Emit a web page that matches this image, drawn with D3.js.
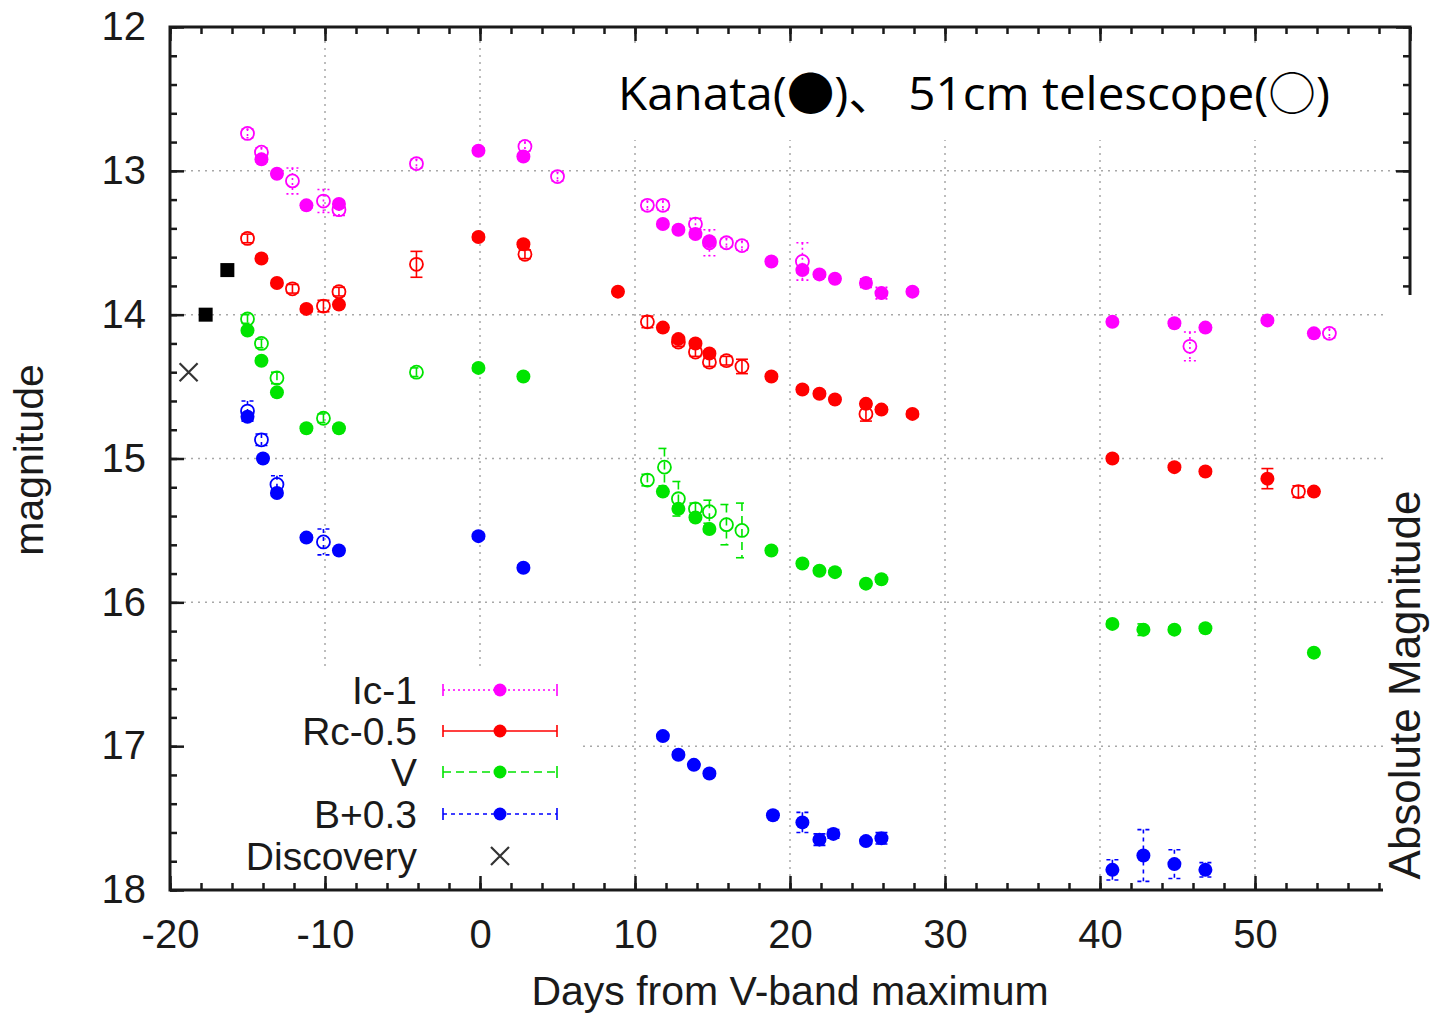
<!DOCTYPE html>
<html>
<head>
<meta charset="utf-8">
<script src="https://cdn.jsdelivr.net/npm/d3@7"></script>
<style>
  html, body { margin: 0; padding: 0; background: #fff; }
  svg { display: block; }
</style>
</head>
<body>
<svg id="chart" width="1431" height="1016"></svg>
<script>
// Light curves: [day from V max, plotted magnitude, error]
const icKanata = [[-14.1,12.92,0.02],[-13.1,13.02,0.02],[-11.2,13.24,0.02],[-9.1,13.23,0.02],[-0.1,12.86,0.02],[2.8,12.90,0.02],[11.8,13.37,0.02],[12.8,13.41,0.02],[13.9,13.44,0.02],[14.8,13.49,0.02],[18.8,13.63,0.02],[20.8,13.69,0.02],[21.9,13.72,0.02],[22.9,13.75,0.02],[24.9,13.78,0.03],[25.9,13.85,0.04],[27.9,13.84,0.02],[40.8,14.05,0.02],[44.8,14.06,0.02],[46.8,14.09,0.02],[50.8,14.04,0.02],[53.8,14.13,0.02]];
const ic51cm = [[-15.0,12.74,0.03],[-14.1,12.87,0.03],[-12.1,13.07,0.09],[-10.1,13.21,0.08],[-9.1,13.27,0.04],[-4.1,12.95,0.03],[2.9,12.83,0.03],[5.0,13.04,0.03],[10.8,13.24,0.03],[11.8,13.24,0.03],[13.9,13.37,0.04],[14.8,13.50,0.09],[15.9,13.50,0.03],[16.9,13.52,0.03],[20.8,13.63,0.13],[45.8,14.22,0.10],[54.8,14.13,0.03]];

const rcKanata = [[-14.1,13.61,0.02],[-13.1,13.78,0.02],[-11.2,13.96,0.02],[-9.1,13.93,0.02],[-0.1,13.46,0.02],[2.8,13.51,0.02],[8.9,13.84,0.02],[11.8,14.09,0.02],[12.8,14.17,0.02],[13.9,14.20,0.02],[14.8,14.27,0.02],[18.8,14.43,0.02],[20.8,14.52,0.02],[21.9,14.55,0.02],[22.9,14.59,0.02],[24.9,14.62,0.02],[25.9,14.66,0.02],[27.9,14.69,0.02],[40.8,15.00,0.02],[44.8,15.06,0.02],[46.8,15.09,0.02],[50.8,15.14,0.07],[53.8,15.23,0.02]];
const rc51cm = [[-15.0,13.47,0.03],[-12.1,13.82,0.03],[-10.1,13.94,0.04],[-9.1,13.84,0.03],[-4.1,13.65,0.09],[2.9,13.58,0.03],[10.8,14.05,0.04],[12.8,14.19,0.03],[13.9,14.26,0.03],[14.8,14.33,0.03],[15.9,14.32,0.03],[16.9,14.36,0.05],[24.9,14.69,0.05],[52.8,15.23,0.04]];

const vKanata = [[-15.0,14.11,0.02],[-14.1,14.32,0.02],[-13.1,14.54,0.02],[-11.2,14.79,0.02],[-9.1,14.79,0.02],[-0.1,14.37,0.02],[2.8,14.43,0.02],[11.8,15.23,0.02],[12.8,15.35,0.02],[13.9,15.41,0.02],[14.8,15.49,0.02],[18.8,15.64,0.02],[20.8,15.73,0.02],[21.9,15.78,0.02],[22.9,15.79,0.02],[24.9,15.87,0.02],[25.9,15.84,0.02],[40.8,16.15,0.02],[42.8,16.19,0.04],[44.8,16.19,0.02],[46.8,16.18,0.02],[53.8,16.35,0.02]];
const v51cm = [[-15.0,14.03,0.03],[-14.1,14.20,0.03],[-13.1,14.44,0.04],[-10.1,14.72,0.03],[-4.1,14.40,0.03],[10.8,15.15,0.04],[11.9,15.06,0.13],[12.8,15.28,0.12],[13.9,15.35,0.04],[14.8,15.37,0.08],[15.9,15.46,0.14],[16.9,15.50,0.19]];

const bKanata = [[-15.0,14.71,0.02],[-14.0,15.00,0.02],[-13.1,15.24,0.02],[-11.2,15.55,0.02],[-9.1,15.64,0.02],[-0.1,15.54,0.02],[2.8,15.76,0.02],[11.8,16.93,0.02],[12.8,17.06,0.02],[13.8,17.13,0.02],[14.8,17.19,0.02],[18.9,17.48,0.02],[20.8,17.53,0.07],[21.9,17.65,0.04],[22.8,17.61,0.03],[24.9,17.66,0.02],[25.9,17.64,0.04],[40.8,17.86,0.07],[42.8,17.76,0.18],[44.8,17.82,0.10],[46.8,17.86,0.05]];
const b51cm = [[-15.0,14.67,0.07],[-14.1,14.87,0.04],[-13.1,15.18,0.06],[-10.1,15.58,0.09]];

const earlyPoints = [[-16.3,13.69],[-17.7,14.00]];
const discovery = [[-18.8,14.40]];

const bandNames = ["Ic-1", "Rc-0.5", "V", "B+0.3"];
const bandColors = ["#ff00ff", "#ff0000", "#00e400", "#0000ff"];
const bandDash = ["2,3", null, "8,5", "4,4"];

const xTicks = [-20, -10, 0, 10, 20, 30, 40, 50];
const yTicks = [12, 13, 14, 15, 16, 17, 18];

const W = 1431, H = 1016;
const pL = 170, pR = 1410, pT = 27, pB = 890;
const x = d3.scaleLinear().domain([-20, 60]).range([pL, pR]);
const y = d3.scaleLinear().domain([12, 18]).range([pT, pB]);

const svg = d3.select("#chart");
const FONT = "'Liberation Sans', Arial, Helvetica, sans-serif";
const INK = "#1a1a1a";
const FS = 40;

// grid
const grid = svg.append("g").attr("stroke", "#a8a8a8").attr("stroke-width", 1.5).attr("stroke-dasharray", "2,5");
grid.selectAll("line.v").data(xTicks.slice(1)).join("line").attr("class", "v")
  .attr("x1", d => x(d)).attr("x2", d => x(d)).attr("y1", pT).attr("y2", pB);
grid.selectAll("line.h").data(yTicks.slice(1, -1)).join("line").attr("class", "h")
  .attr("y1", d => y(d)).attr("y2", d => y(d)).attr("x1", pL).attr("x2", pR);

// white boxes behind legend and the telescope note
svg.append("rect").attr("x", 172).attr("y", 667).attr("width", 407).attr("height", 212).attr("fill", "#fff");
svg.append("rect").attr("x", 600).attr("y", 48).attr("width", 745).attr("height", 92).attr("fill", "#fff");

// axes: major + minor ticks drawn inward
function styleAxis(g) {
  g.select(".domain").remove();
  g.selectAll(".tick line").attr("stroke", INK).attr("stroke-width", 2.5);
  g.selectAll("text").attr("font-family", FONT).attr("font-size", FS).attr("fill", INK);
}
const plain = d => String(d);
const minorX = d3.range(-20, 60.01, 2);
const minorY = d3.range(12, 18.001, 0.2);

svg.append("g").attr("transform", `translate(0,${pB})`)
  .call(d3.axisBottom(x).tickValues(xTicks).tickSize(-14).tickPadding(30).tickFormat(plain))
  .call(styleAxis);
svg.append("g").attr("transform", `translate(0,${pB})`)
  .call(d3.axisBottom(x).tickValues(minorX).tickSize(-7).tickFormat(""))
  .call(styleAxis);
svg.append("g").attr("transform", `translate(0,${pT})`)
  .call(d3.axisTop(x).tickValues(d3.range(-20, 60.01, 10)).tickSize(-14).tickFormat(""))
  .call(styleAxis);
svg.append("g").attr("transform", `translate(0,${pT})`)
  .call(d3.axisTop(x).tickValues(minorX).tickSize(-7).tickFormat(""))
  .call(styleAxis);
svg.append("g").attr("transform", `translate(${pL},0)`)
  .call(d3.axisLeft(y).tickValues(yTicks).tickSize(-14).tickPadding(24).tickFormat(plain))
  .call(styleAxis);
svg.append("g").attr("transform", `translate(${pL},0)`)
  .call(d3.axisLeft(y).tickValues(minorY).tickSize(-7).tickFormat(""))
  .call(styleAxis);
svg.append("g").attr("transform", `translate(${pR},0)`)
  .call(d3.axisRight(y).tickValues(yTicks).tickSize(-14).tickFormat(""))
  .call(styleAxis);
svg.append("g").attr("transform", `translate(${pR},0)`)
  .call(d3.axisRight(y).tickValues(minorY).tickSize(-7).tickFormat(""))
  .call(styleAxis);

// frame
svg.append("rect").attr("x", pL).attr("y", pT).attr("width", pR - pL).attr("height", pB - pT)
  .attr("fill", "none").attr("stroke", INK).attr("stroke-width", 3);

// data
const plot = svg.append("g");
function errorBars(g, data, color, dash) {
  const eb = g.append("g").attr("stroke", color).attr("stroke-width", 1.6).attr("fill", "none");
  if (dash) eb.attr("stroke-dasharray", dash);
  data.forEach(d => {
    const cx = x(d[0]), y1 = y(d[1] - d[2]), y2 = y(d[1] + d[2]);
    eb.append("line").attr("x1", cx).attr("x2", cx).attr("y1", y1).attr("y2", y2);
    eb.append("line").attr("x1", cx - 6).attr("x2", cx + 6).attr("y1", y1).attr("y2", y1);
    eb.append("line").attr("x1", cx - 6).attr("x2", cx + 6).attr("y1", y2).attr("y2", y2);
  });
}
const openSets = [ic51cm, rc51cm, v51cm, b51cm];
const filledSets = [icKanata, rcKanata, vKanata, bKanata];
for (let i = 0; i < 4; i++) {
  const g = plot.append("g");
  errorBars(g, openSets[i], bandColors[i], bandDash[i]);
  g.selectAll("circle").data(openSets[i]).join("circle")
    .attr("cx", d => x(d[0])).attr("cy", d => y(d[1])).attr("r", 6.5)
    .attr("fill", "none").attr("stroke", bandColors[i]).attr("stroke-width", 1.8);
  const f = plot.append("g");
  errorBars(f, filledSets[i], bandColors[i], bandDash[i]);
  f.selectAll("circle").data(filledSets[i]).join("circle")
    .attr("cx", d => x(d[0])).attr("cy", d => y(d[1])).attr("r", 7)
    .attr("fill", bandColors[i]);
}
plot.append("g").selectAll("rect").data(earlyPoints).join("rect")
  .attr("x", d => x(d[0]) - 7).attr("y", d => y(d[1]) - 7).attr("width", 14).attr("height", 14)
  .attr("fill", "#000");
function cross(g, cx, cy, s) {
  g.append("path").attr("d", `M${cx - s},${cy - s}L${cx + s},${cy + s}M${cx - s},${cy + s}L${cx + s},${cy - s}`)
    .attr("stroke", "#333").attr("stroke-width", 2.2).attr("fill", "none");
}
discovery.forEach(d => cross(plot, x(d[0]), y(d[1]), 9));

// legend
const legend = svg.append("g").attr("font-family", FONT).attr("font-size", 39).attr("fill", INK);
const legY = [690, 731, 772, 814, 856];
bandNames.forEach((name, i) => {
  const ly = legY[i];
  legend.append("text").attr("x", 417).attr("y", ly).attr("dy", "0.35em").attr("text-anchor", "end").text(name);
  const lg = legend.append("g").attr("stroke", bandColors[i]).attr("stroke-width", 1.6).attr("fill", "none");
  const ln = lg.append("line").attr("x1", 443).attr("x2", 557).attr("y1", ly).attr("y2", ly);
  if (bandDash[i]) ln.attr("stroke-dasharray", bandDash[i]);
  [443, 557].forEach(cx => lg.append("line").attr("x1", cx).attr("x2", cx).attr("y1", ly - 6).attr("y2", ly + 6));
  legend.append("circle").attr("cx", 500).attr("cy", ly).attr("r", 6.5).attr("fill", bandColors[i]);
});
legend.append("text").attr("x", 417).attr("y", legY[4]).attr("dy", "0.35em").attr("text-anchor", "end").text("Discovery");
cross(legend, 500, legY[4], 9);

// telescope note
svg.append("text").attr("x", 618).attr("y", 110)
  .attr("font-family", "'Open Sans', 'Noto Sans CJK JP', sans-serif").attr("font-size", 46).attr("fill", "#000")
  .attr("textLength", 712).attr("lengthAdjust", "spacingAndGlyphs")
  .text("Kanata(\u25CF)\u3001 51cm telescope(\u25CB)");

// cover strip at right of the lower frame
svg.append("rect").attr("x", 1383).attr("y", 295).attr("width", W - 1383).attr("height", H - 295).attr("fill", "#fff");

// axis titles
svg.append("text").attr("transform", "translate(43,460) rotate(-90)").attr("text-anchor", "middle")
  .attr("font-family", FONT).attr("font-size", 41).attr("fill", INK).text("magnitude");
svg.append("text").attr("x", 790).attr("y", 1005).attr("text-anchor", "middle")
  .attr("font-family", FONT).attr("font-size", 41).attr("fill", INK).text("Days from V-band maximum");
svg.append("text").attr("transform", "translate(1420,685) rotate(-90)").attr("text-anchor", "middle")
  .attr("font-family", FONT).attr("font-size", 44).attr("fill", INK).text("Absolute Magnitude");
</script>
</body>
</html>
